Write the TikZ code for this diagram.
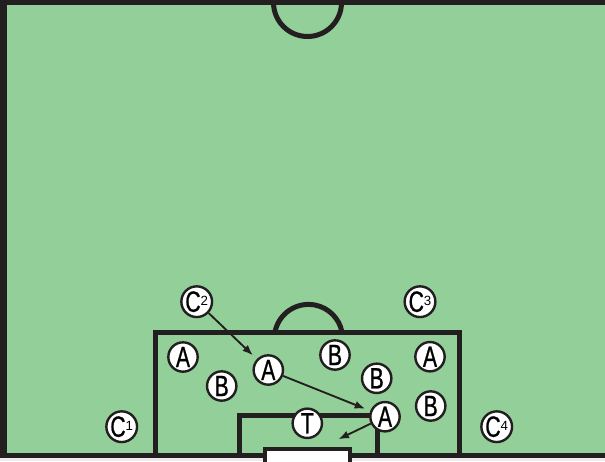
\documentclass[tikz,border=0pt]{standalone}
\usepackage{fontspec}
\setmainfont{Liberation Sans}
\newfontfamily\condfont[FakeStretch=0.72, FakeBold=0.8]{Liberation Sans}
\usetikzlibrary{arrows.meta}
\definecolor{pitch}{RGB}{147,207,153}
\definecolor{ink}{RGB}{35,31,32}
\newcommand\cnum[1]{\raisebox{5pt}{\rmfamily\fontsize{10}{10}\selectfont #1}}

\begin{document}
\begin{tikzpicture}[x=0.75pt, y=0.75pt, >={Latex[length=8pt,width=6pt]},
    line/.style={draw=ink, line width=3.75pt},
    player/.style={circle, draw=ink, line width=1.8pt, fill=white,
        minimum size=22pt, inner sep=0pt,
        font=\condfont\fontsize{22}{22}\selectfont},
    pass/.style={->, draw=ink, line width=1.4pt}]
    \useasboundingbox (0,0) rectangle (605,461);
    % Spielfeld
    \fill[gray!15] (0,0) rectangle (605,461);
    \fill[pitch] (0,3) rectangle (605,461);
    \draw[line] (0,458.5) -- (605,458.5);
    \draw[line, line width=5.25pt] (3.5,461) -- (3.5,3);
    \draw[line] (0,5.5) -- (605,5.5);
    \draw[line] (273.5,458.5) arc[start angle=180, end angle=360, radius=34];
    
    % Strafraum, Torraum und Tor
    \draw[line] (155,5.5) -- (155,129) -- (459.5,129) -- (459.5,5.5);
    \draw[line] (275,129) arc[start angle=169, end angle=11, radius=34.1];
    \draw[line] (239.5,5.5) -- (239.5,46) -- (377.5,46) -- (377.5,5.5);
    \draw[draw=ink, line width=3pt, fill=white] (265,-5) rectangle (350,12);
    
    % Spieler
    \node[player] (c1) at (121.7,34.3) {C\cnum{1}};
    \node[player] (c2) at (196.7,159.3) {C\cnum{2}};
    \node[player] (c3) at (420,159.3) {C\cnum{3}};
    \node[player] (c4) at (496.7,34.3) {C\cnum{4}};
    \node[player] (a1) at (183,104) {A};
    \node[player] (a2) at (268.3,91) {A};
    \node[player] (a3) at (430,104.3) {A};
    \node[player] (a4) at (385,44.3) {A};
    \node[player] (b1) at (221.7,75) {B};
    \node[player] (b2) at (335,106) {B};
    \node[player] (b3) at (376.7,82.7) {B};
    \node[player] (b4) at (430.7,55) {B};
    \node[player] (t) at (307.3,37.7) {T};
    
    % Passwege
    \coordinate (shot) at (338.3,21.7);
    \draw[pass, shorten >=4pt] (c2) -- (a2);
    \draw[pass, shorten >=4pt] (a2) -- (a4);
    \draw[pass] (a4) -- (shot);
\end{tikzpicture}
\end{document}
